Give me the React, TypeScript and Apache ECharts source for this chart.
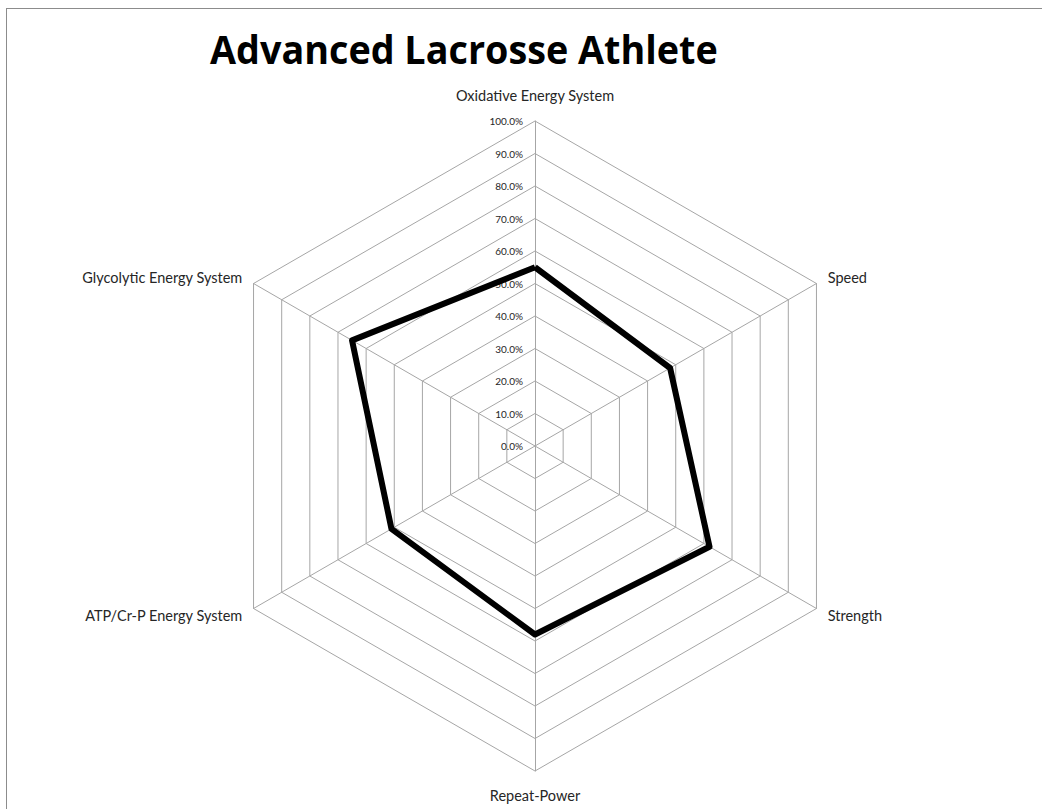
import React, { useEffect, useRef } from "react";
import * as echarts from "echarts";

const titleText = "Advanced Lacrosse Athlete";
// Listed counter-clockwise from the top, the order radar indicators are laid out in
const indicatorNames = [
  "Oxidative Energy System",
  "Glycolytic Energy System",
  "ATP/Cr-P Energy System",
  "Repeat-Power",
  "Strength",
  "Speed",
];
const athleteScores = [55, 65, 51, 58, 62, 48];
const scaleMax = 100;
const scaleStep = 10;

export default function App() {
  const ref = useRef<HTMLDivElement>(null);

  useEffect(() => {
    if (!ref.current) return;
    const chart = echarts.init(ref.current, undefined, { renderer: "svg" });
    const labelFont = "Lato, 'Open Sans', sans-serif";

    chart.setOption({
      animation: false,
      backgroundColor: "#ffffff",
      graphic: [
        {
          type: "text",
          x: 210,
          y: 28,
          scaleX: 0.944,
          style: {
            text: titleText,
            font: "bold 40px 'Open Sans', sans-serif",
            fill: "#000000",
          },
        },
      ],
      radar: {
        center: [535, 446],
        radius: 325,
        startAngle: 90,
        shape: "polygon",
        splitNumber: scaleMax / scaleStep,
        nameGap: 13,
        axisName: {
          color: "#262626",
          fontFamily: labelFont,
          fontSize: 14.5,
          padding: [4, 0, 5, 0],
        },
        axisLine: { lineStyle: { color: "#a6a6a6", width: 1 } },
        splitLine: { lineStyle: { color: "#a6a6a6", width: 1 } },
        splitArea: { show: false },
        axisTick: { show: false },
        axisLabel: { show: false, color: "#262626" },
        indicator: indicatorNames.map((name, i) => ({
          name,
          min: 0,
          max: scaleMax,
          axisLabel:
            i === 0
              ? {
                  show: true,
                  fontSize: 10,
                  fontFamily: labelFont,
                  color: "#262626",
                  margin: 12,
                  formatter: (v: number) => v.toFixed(1) + "%",
                }
              : { show: false },
        })),
      },
      series: [
        {
          type: "radar",
          symbol: "none",
          lineStyle: { color: "#000000", width: 6 },
          data: [{ value: athleteScores, name: titleText }],
        },
      ],
    });

    return () => chart.dispose();
  }, []);

  return (
    <>
      <div
        style={{
          position: "absolute",
          left: 6,
          top: 8,
          right: 0,
          bottom: 0,
          borderTop: "1px solid #8c8c8c",
          borderLeft: "1px solid #8c8c8c",
          pointerEvents: "none",
          zIndex: 2,
        }}
      />
      <div
        ref={ref}
        style={{ position: "absolute", left: 0, top: 0, width: 1042, height: 809 }}
      />
    </>
  );
}
